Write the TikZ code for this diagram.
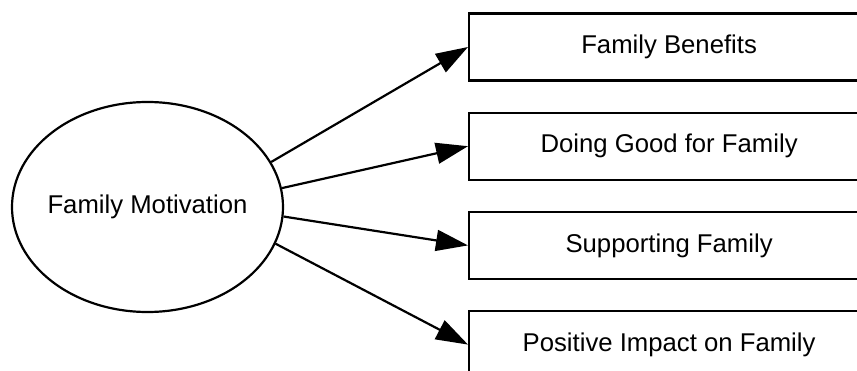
\documentclass[tikz,border=0pt]{standalone}
\usepackage{fontspec}
\setmainfont{Liberation Sans}
\usetikzlibrary{arrows.meta,positioning,shapes.geometric}

\begin{document}
\begin{tikzpicture}[x=1pt,y=1pt,line width=2.2pt,node distance=30pt,
    font=\fontsize{25.7}{30}\selectfont,
    latent/.style={ellipse,draw,minimum width=271pt,minimum height=210pt,inner xsep=-20pt,inner ysep=0pt},
    indicator/.style={rectangle,draw,minimum width=400pt,minimum height=67pt,inner sep=0pt},
    loading/.style={-{Triangle[length=32pt,width=21pt]}}]
    \useasboundingbox (0,0) rectangle (857,370);
    \clip (0,0) rectangle (857,370);
    \node[latent] (motiv) at (147.5,163) {Family Motivation};
    \node[indicator,anchor=west] (benefits) at (468,323) {Family Benefits};
    \node[indicator,below=of benefits] (good) {Doing Good for Family};
    \node[indicator,below=of good] (support) {Supporting Family};
    \node[indicator,below=of support] (impact) {Positive Impact on Family};
    % paths from the latent factor
    \draw[loading] (motiv.20) -- (benefits.west);
    \draw[loading] (motiv.8) -- (good.west);
    \draw[loading] (motiv.-4.6) -- (support.west);
    \draw[loading] (motiv.-16.9) -- (impact.west);
\end{tikzpicture}
\end{document}
